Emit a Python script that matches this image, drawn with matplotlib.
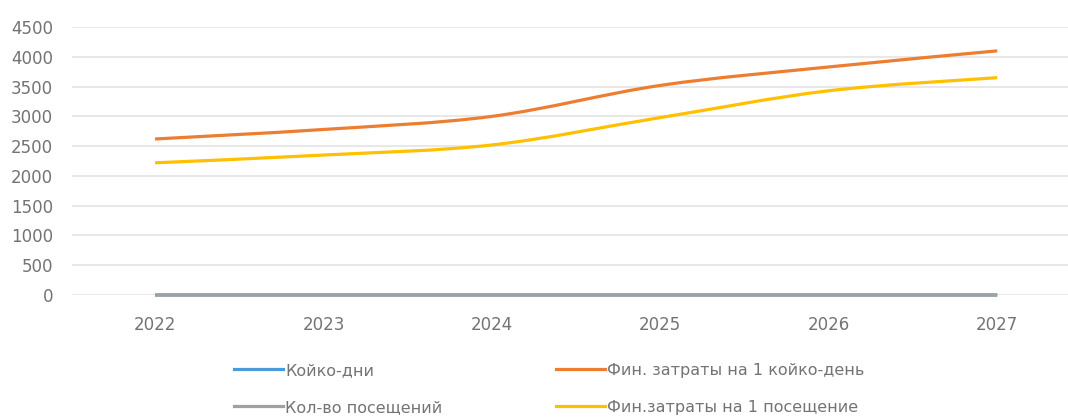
import numpy as np
import matplotlib
matplotlib.use("Agg")
import matplotlib.pyplot as plt
from matplotlib.path import Path
from matplotlib.patches import PathPatch
from matplotlib.lines import Line2D

years = [2022, 2023, 2024, 2025, 2026, 2027]
koiko_dni = [0, 0, 0, 0, 0, 0]
fin_koiko_den = [2620, 2780, 3000, 3520, 3830, 4100]
kol_poseschenii = [0, 0, 0, 0, 0, 0]
fin_poseschenie = [2220, 2350, 2520, 2980, 3430, 3650]

series = [
    ("Койко-дни", koiko_dni, "#4A9AD8"),
    ("Фин. затраты на 1 койко-день", fin_koiko_den, "#ED7D31"),
    ("Кол-во посещений", kol_poseschenii, "#A0A0A0"),
    ("Фин.затраты на 1 посещение", fin_poseschenie, "#FFC000"),
]

LW = 2.3
TXT = "#737373"


def smooth_path(xs, ys, t=1.0 / 6):
    # cubic bezier through the points (catmull-rom style, like office smoothed lines)
    xs = np.asarray(xs, float)
    ys = np.asarray(ys, float)
    n = len(xs)
    verts = [(xs[0], ys[0])]
    codes = [Path.MOVETO]
    for i in range(n - 1):
        p0 = np.array([xs[max(i - 1, 0)], ys[max(i - 1, 0)]])
        p1 = np.array([xs[i], ys[i]])
        p2 = np.array([xs[i + 1], ys[i + 1]])
        p3 = np.array([xs[min(i + 2, n - 1)], ys[min(i + 2, n - 1)]])
        c1 = p1 + (p2 - p0) * t
        c2 = p2 - (p3 - p1) * t
        verts += [tuple(c1), tuple(c2), tuple(p2)]
        codes += [Path.CURVE4] * 3
    return Path(verts, codes)


fig = plt.figure(figsize=(10.68, 4.2), dpi=100)
ax = fig.add_axes([0.0674, 0.2976, 0.9326, 0.638])

x = np.arange(len(years))
for name, vals, col in series:
    ax.add_patch(PathPatch(smooth_path(x, vals), facecolor="none",
                           edgecolor=col, lw=LW, capstyle="butt",
                           zorder=3, clip_on=False))

ax.set_xlim(-0.493, 5.42)
ax.set_ylim(0, 4500)
ax.set_yticks(np.arange(0, 4501, 500))
ax.set_xticks(x)
ax.set_xticklabels([str(y) for y in years])
ax.grid(axis="y", color="#E6E6E6", lw=1.3, zorder=0)
for s in ax.spines.values():
    s.set_visible(False)
ax.tick_params(length=0, colors=TXT, labelsize=12)
ax.tick_params(axis="y", pad=13.7)
ax.tick_params(axis="x", pad=15)

handles = [Line2D([], [], color=c, lw=LW) for _, _, c in series]
labels = [n for n, _, _ in series]
order = [0, 2, 1, 3]
fig.legend([handles[i] for i in order], [labels[i] for i in order],
           ncol=2, loc="center", bbox_to_anchor=(0.514, 0.074), frameon=False,
           fontsize=11.5, labelcolor=TXT, handlelength=3.1, handletextpad=0.1,
           columnspacing=7.1, labelspacing=1.37)

fig.savefig("out.png", dpi=100, facecolor="white")
